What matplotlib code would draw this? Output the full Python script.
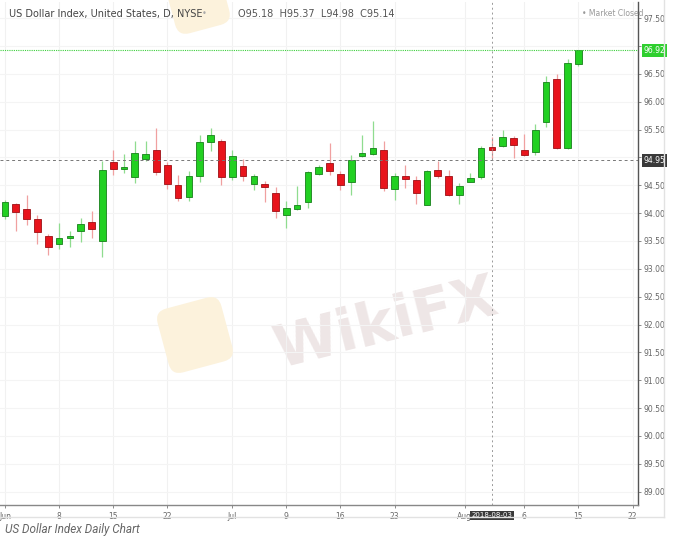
import numpy as np
import matplotlib
matplotlib.use("Agg")
import matplotlib.pyplot as plt
from matplotlib.patches import FancyBboxPatch
from matplotlib.transforms import Affine2D
from matplotlib.lines import Line2D

# daily candles, Jun 1 - Aug 15 2018
dates = ["2018-06-01", "2018-06-04", "2018-06-05", "2018-06-06", "2018-06-07", "2018-06-08",
         "2018-06-11", "2018-06-12", "2018-06-13", "2018-06-14", "2018-06-15",
         "2018-06-18", "2018-06-19", "2018-06-20", "2018-06-21", "2018-06-22",
         "2018-06-25", "2018-06-26", "2018-06-27", "2018-06-28", "2018-06-29",
         "2018-07-02", "2018-07-03", "2018-07-04", "2018-07-05", "2018-07-06",
         "2018-07-09", "2018-07-10", "2018-07-11", "2018-07-12", "2018-07-13",
         "2018-07-16", "2018-07-17", "2018-07-18", "2018-07-19", "2018-07-20",
         "2018-07-23", "2018-07-24", "2018-07-25", "2018-07-26", "2018-07-27",
         "2018-07-30", "2018-07-31", "2018-08-01", "2018-08-02", "2018-08-03",
         "2018-08-06", "2018-08-07", "2018-08-08", "2018-08-09", "2018-08-10",
         "2018-08-13", "2018-08-14", "2018-08-15"]
opens = [93.94, 94.16, 94.08, 93.89, 93.59, 93.44, 93.56, 93.67, 93.84, 93.50,
         94.91, 94.80, 94.64, 94.98, 95.14, 94.87, 94.51, 94.29, 94.66, 95.27,
         95.30, 94.64, 94.85, 94.52, 94.52, 94.37, 93.97, 94.07, 94.20, 94.70,
         94.90, 94.70, 94.56, 95.03, 95.07, 95.14, 94.43, 94.67, 94.60, 94.15,
         94.77, 94.66, 94.33, 94.56, 94.64, 95.18, 95.20, 95.34, 95.14, 95.10,
         95.64, 96.40, 95.17, 96.68]
highs = [94.24, 94.18, 94.32, 93.96, 93.62, 93.82, 93.67, 93.91, 94.03, 94.94,
         95.13, 95.06, 95.30, 95.30, 95.53, 94.92, 94.69, 94.76, 95.41, 95.53,
         95.33, 95.14, 94.98, 94.70, 94.58, 94.47, 94.22, 94.48, 94.76, 94.87,
         95.26, 94.76, 95.05, 95.41, 95.65, 95.29, 94.72, 94.87, 94.66, 94.78,
         94.93, 94.77, 94.54, 94.72, 95.20, 95.37, 95.50, 95.38, 95.42, 95.60,
         96.47, 96.50, 96.77, 96.93]
lows = [93.90, 93.67, 93.79, 93.44, 93.25, 93.35, 93.40, 93.49, 93.55, 93.22,
        94.68, 94.72, 94.54, 94.93, 94.69, 94.44, 94.21, 94.21, 94.56, 95.11,
        94.51, 94.60, 94.58, 94.42, 94.20, 93.92, 93.74, 94.06, 94.10, 94.69,
        94.69, 94.42, 94.32, 95.00, 95.05, 94.39, 94.24, 94.45, 94.16, 94.14,
        94.63, 94.30, 94.16, 94.55, 94.62, 94.98, 95.18, 94.99, 95.02, 95.05,
        95.55, 95.15, 95.15, 96.65]
closes = [94.20, 94.02, 93.90, 93.66, 93.40, 93.56, 93.59, 93.81, 93.71, 94.78,
          94.79, 94.82, 95.08, 95.07, 94.74, 94.52, 94.28, 94.67, 95.28, 95.40,
          94.65, 95.03, 94.67, 94.67, 94.47, 94.04, 94.09, 94.15, 94.73, 94.82,
          94.75, 94.51, 94.95, 95.08, 95.17, 94.45, 94.67, 94.61, 94.36, 94.75,
          94.67, 94.32, 94.49, 94.63, 95.16, 95.14, 95.37, 95.23, 95.05, 95.50,
          96.36, 95.17, 96.69, 96.92]

tick_pos = [0, 5, 10, 15, 21, 26, 31, 36, 42.5, 48, 53, 58]
tick_labels = ["Jun", "8", "15", "22", "Jul", "9", "16", "23", "Aug", "6", "15", "22"]
price_ticks = np.arange(89.0, 97.51, 0.5)

last_price = 96.92
cross_price = 94.95
cross_date = "2018-08-03"

W, H = 674, 540
GREEN, GREEN_EDGE, GREEN_WICK = "#22d022", "#17801a", "#8fdc8f"
RED, RED_EDGE, RED_WICK = "#e8141c", "#9c1015", "#f0a0a0"


def fpx(x, y):
    # pixel (from top-left) -> figure fraction
    return x / W, 1 - y / H


fig = plt.figure(figsize=(W / 100, H / 100), dpi=100)
ax = fig.add_axes([0, 1 - 505 / H, 638 / W, 503 / H])

o = np.array(opens)
c = np.array(closes)
hi = np.array(highs)
lo = np.array(lows)
xs = np.arange(len(o))
up = c >= o

# watermark
ax.text(0.605, 0.36, "WikiFX", transform=ax.transAxes, fontsize=42, fontweight="bold",
        color="#eee6e6", rotation=14, ha="center", va="center", zorder=0)
px_to_fig = Affine2D().scale(1 / W, 1 / H) + fig.transFigure
for cx, cy, s in [(195, 205, 66), (198, 540 - 2, 56)]:
    logo = FancyBboxPatch((-s / 2, -s / 2), s, s, boxstyle="round,pad=0,rounding_size=12",
                          facecolor="#fcf2dc", edgecolor="none",
                          transform=Affine2D().rotate_deg(15).translate(cx, cy) + px_to_fig,
                          zorder=0)
    fig.patches.append(logo)
ax.patch.set_alpha(0)

# grid
for p in tick_pos:
    ax.axvline(p, color="#f1f1f1", lw=0.8, zorder=1)
for p in price_ticks:
    ax.axhline(p, color="#f4f4f4", lw=0.8, zorder=1)

# candles
ax.vlines(xs[up], lo[up], hi[up], color=GREEN_WICK, lw=0.9, zorder=2)
ax.vlines(xs[~up], lo[~up], hi[~up], color=RED_WICK, lw=0.9, zorder=2)
body_h = np.maximum(np.abs(c - o), 0.025)
ax.bar(xs[up], body_h[up], bottom=np.minimum(o, c)[up], width=0.62,
       color=GREEN, edgecolor=GREEN_EDGE, lw=0.6, zorder=3)
ax.bar(xs[~up], body_h[~up], bottom=np.minimum(o, c)[~up], width=0.62,
       color=RED, edgecolor=RED_EDGE, lw=0.6, zorder=3)

# last price + crosshair
ax.axhline(last_price, color="#3ccf3c", lw=0.8, ls=(0, (1, 1)), zorder=4)
ax.axhline(cross_price, color="#777777", lw=0.7, ls=(0, (3, 3)), zorder=4)
cross_i = dates.index(cross_date)
ax.axvline(cross_i, color="#999999", lw=0.7, ls=(0, (2, 3)), zorder=4)

ax.set_xlim(-0.46, 58.5)
ax.set_ylim(88.76, 97.79)

# labels hidden under the price boxes are left blank
covered = [round(last_price * 2) / 2, round(cross_price * 2) / 2]
ax.yaxis.tick_right()
ax.set_yticks(price_ticks)
ax.set_yticklabels(["" if p in covered else f"{p:.2f}" for p in price_ticks])
ax.set_xticks(tick_pos)
ax.set_xticklabels(tick_labels)
ax.tick_params(axis="y", labelsize=5.5, labelcolor="#666666", color="#777777",
               length=2, width=0.6, pad=2)
ax.tick_params(axis="x", labelsize=5.5, labelcolor="#666666", color="#777777",
               length=2, width=0.6, pad=3)
for side in ["top", "left"]:
    ax.spines[side].set_visible(False)
ax.spines["right"].set_color("#555555")
ax.spines["right"].set_linewidth(1.0)
ax.spines["bottom"].set_color("#888888")
ax.spines["bottom"].set_linewidth(1.0)

# price labels on the axis
box = dict(boxstyle="square,pad=0.25", edgecolor="none")
ax.annotate(f"{last_price:.2f}", xy=(1.0, last_price), xycoords=("axes fraction", "data"),
            xytext=(4, 0), textcoords="offset points", va="center", ha="left",
            fontsize=5.5, color="white", bbox=dict(box, facecolor="#2fcf2f"), zorder=6)
ax.annotate(f"{cross_price:.2f}", xy=(1.0, cross_price), xycoords=("axes fraction", "data"),
            xytext=(4, 0), textcoords="offset points", va="center", ha="left",
            fontsize=5.5, color="white", bbox=dict(box, facecolor="#3a3a3a"), zorder=6)
ax.annotate(cross_date, xy=(cross_i, 0), xycoords=("data", "axes fraction"),
            xytext=(0, -7.5), textcoords="offset points", va="center", ha="center",
            fontsize=5, color="white", bbox=dict(box, facecolor="#3a3a3a"),
            annotation_clip=False, zorder=6)

# header texts
fig.text(*fpx(9, 14), "US Dollar Index, United States, D, NYSE", fontsize=7,
         color="#444444", va="center", ha="left")
fig.text(*fpx(202, 14), "\u2022", fontsize=6, color="#aaaaaa", va="center")
fig.text(*fpx(238, 14), "O95.18  H95.37  L94.98  C95.14", fontsize=7,
         color="#555555", va="center", ha="left")
fig.text(*fpx(582, 14), "\u2022 Market Closed", fontsize=5.5, color="#999999",
         va="center", ha="left")

# widget frame
fig.add_artist(Line2D([664 / W, 664 / W], [1, 1 - 517 / H], transform=fig.transFigure,
                      color="#e2e2e2", lw=1))
fig.add_artist(Line2D([0, 664 / W], [1 - 517 / H, 1 - 517 / H], transform=fig.transFigure,
                      color="#e2e2e2", lw=1))

fig.text(*fpx(5, 530), "US Dollar Index Daily Chart", fontsize=8.5, color="#666666",
         family="Roboto", style="italic", va="center", ha="left")

fig.savefig("out.png", dpi=100)
